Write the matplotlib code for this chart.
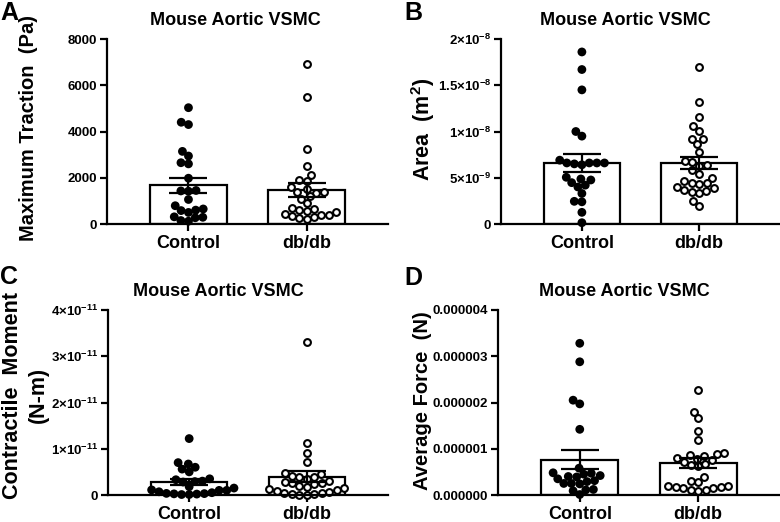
# Mouse aortic VSMC traction measurements, control vs db/db
# Four panels: bar = mean, error bar = SEM, points = individual cells.

import numpy as np
import matplotlib
matplotlib.use('Agg')
import matplotlib.pyplot as plt

plt.rcParams['font.family'] = ['Liberation Sans', 'DejaVu Sans']
plt.rcParams['font.weight'] = 'bold'
plt.rcParams['mathtext.fontset'] = 'custom'
plt.rcParams['mathtext.rm'] = 'Liberation Sans:bold'
plt.rcParams['mathtext.bf'] = 'Liberation Sans:bold'

GROUPS = ['Control', 'db/db']
TITLE = 'Mouse Aortic VSMC'

# Maximum traction (Pa)
traction_ctrl = [5030, 4400, 4300, 3140, 2940, 2650, 2600, 1980, 1450, 1430, 1420,
                 1060, 790, 650, 600, 580, 500, 310, 290, 270, 150, 120]
traction_db = [6900, 5500, 3250, 2500, 2100, 1900, 1850, 1600, 1500, 1400, 1380, 1350,
               1200, 1100, 900, 700, 650, 600, 550, 500, 450, 400, 380, 350, 300, 250, 200]

# Cell area (x1e-9 m^2)
area_ctrl = [18.6, 16.7, 14.5, 10.0, 9.5, 6.9, 6.6, 6.6, 6.6, 6.6, 6.5, 6.4, 5.05, 4.87,
             4.76, 4.47, 4.2, 4.0, 3.3, 2.45, 2.4, 1.26, 0.14]
area_db = [17.0, 13.2, 11.6, 10.6, 10.1, 9.2, 9.15, 8.6, 7.8, 6.8, 6.7, 6.4, 6.3, 5.8, 5.4,
           5.0, 4.6, 4.45, 4.4, 4.35, 4.0, 3.9, 3.7, 3.6, 3.5, 3.4, 2.5, 2.0]

# Contractile moment (x1e-12 N-m)
moment_ctrl = [12.2, 7.0, 6.7, 6.0, 5.6, 5.0, 3.5, 3.3, 3.0, 2.9, 2.8, 1.8, 1.5, 1.1, 1.0,
               1.0, 0.7, 0.5, 0.35, 0.3, 0.25, 0.2, 0.1, 0.1]
moment_db = [33.0, 11.3, 9.0, 7.2, 4.8, 4.5, 4.2, 4.0, 3.8, 3.5, 3.0, 2.8, 2.6, 2.5, 2.3,
             2.0, 1.8, 1.5, 1.2, 1.0, 0.9, 0.7, 0.5, 0.4, 0.3, 0.2, 0.1, 0.1]

# Average force (x1e-7 N)
force_ctrl = [32.8, 28.8, 20.5, 19.7, 14.2, 5.8, 4.8, 4.7, 4.5, 4.2, 4.0, 3.9, 3.5, 3.1,
              2.9, 2.5, 2.5, 2.4, 1.2, 1.1, 0.9, 0.1]
force_db = [22.8, 18.0, 16.6, 13.8, 12.0, 9.0, 8.8, 8.6, 8.4, 8.0, 7.8, 7.5, 7.2, 6.8, 6.5,
            6.2, 4.0, 3.0, 2.9, 2.0, 1.9, 1.8, 1.7, 1.6, 1.5, 1.1, 1.0, 0.9]

# tick labels
traction_ticks = [0, 2000, 4000, 6000, 8000]
traction_labels = ['0', '2000', '4000', '6000', '8000']
area_ticks = [0, 5e-9, 1e-8, 1.5e-8, 2e-8]
area_labels = ['0', r'$\mathbf{5{\times}10^{-9}}$', r'$\mathbf{1{\times}10^{-8}}$',
               r'$\mathbf{1.5{\times}10^{-8}}$', r'$\mathbf{2{\times}10^{-8}}$']
moment_ticks = [0, 1e-11, 2e-11, 3e-11, 4e-11]
moment_labels = ['0', r'$\mathbf{1{\times}10^{-11}}$', r'$\mathbf{2{\times}10^{-11}}$',
                 r'$\mathbf{3{\times}10^{-11}}$', r'$\mathbf{4{\times}10^{-11}}$']
force_ticks = [0, 1e-6, 2e-6, 3e-6, 4e-6]
force_labels = ['0.000000', '0.000001', '0.000002', '0.000003', '0.000004']

W, H = 780, 522


def swarm_x(ax, values, center, diam):
    """Simple beeswarm: x offsets (data units) so points don't overlap."""
    tr = ax.transData
    ys = tr.transform(np.column_stack([np.full(len(values), center), values]))[:, 1]
    ppu = tr.transform([[1, 0]])[0, 0] - tr.transform([[0, 0]])[0, 0]
    order = np.argsort(values, kind='stable')
    placed = []
    offs = np.zeros(len(values))
    for i in order:
        y = ys[i]
        cands = [0.0]
        for (px, py) in placed:
            dy = abs(py - y)
            if dy < diam:
                dx = np.sqrt(diam ** 2 - dy ** 2)
                cands += [px + dx, px - dx]
        cands = sorted(cands, key=lambda c: (abs(c), c))
        for c in cands:
            if all((c - px) ** 2 + (y - py) ** 2 >= diam ** 2 - 1e-6 for px, py in placed):
                break
        placed.append((c, y))
        offs[i] = c
    return center + offs / ppu


def draw_panel(rect, letter, letter_pos, ctrl, db, scale, ylim, ticks, labels,
               ylabel, ylabel_size, ylabel_xy, title_x):
    fig = plt.gcf()
    ax = fig.add_axes([rect[0] / W, 1 - rect[3] / H, (rect[1] - rect[0]) / W,
                       (rect[3] - rect[2]) / H])
    ax.set_xlim(-0.69, 1.69)
    ax.set_ylim(*ylim)

    for k, vals in enumerate([ctrl, db]):
        v = np.array(vals) * scale
        mean = v.mean()
        sem = v.std(ddof=1) / np.sqrt(len(v))
        ax.bar(k, mean, width=0.65, color='white', edgecolor='black', linewidth=1.6, zorder=1)
        xs = swarm_x(ax, v, k, 7.6)
        if k == 0:
            ax.scatter(xs, v, s=40, color='black', edgecolors='none', zorder=2, clip_on=False)
        else:
            ax.scatter(xs, v, s=24, facecolors='white', edgecolors='black', linewidths=1.5,
                       zorder=2, clip_on=False)
        ax.errorbar(k, mean, yerr=sem, color='black', elinewidth=1.6, capsize=14,
                    capthick=1.6, zorder=3)

    for s in ['top', 'right']:
        ax.spines[s].set_visible(False)
    for s in ['left', 'bottom']:
        ax.spines[s].set_linewidth(1.6)
    ax.set_xticks([0, 1])
    ax.set_xticklabels(GROUPS, fontsize=13, fontweight='bold')
    ax.set_yticks(ticks)
    ax.set_yticklabels(labels, fontsize=9.5, fontweight='bold')
    ax.tick_params(axis='y', length=5, width=1.6, pad=2)
    ax.tick_params(axis='x', length=5, width=1.6, pad=3)
    ax.set_ylabel(ylabel, fontsize=ylabel_size, fontweight='bold', linespacing=1.35)
    ax.yaxis.set_label_coords(*ylabel_xy)
    ax.text(title_x, 1.1, TITLE, transform=ax.transAxes, ha='center', va='center',
            fontsize=13, fontweight='bold')
    fig.text(letter_pos[0] / W, 1 - letter_pos[1] / H, letter, fontsize=18,
             fontweight='bold', ha='left', va='top')
    return ax


fig = plt.figure(figsize=(7.8, 5.22), dpi=100)

draw_panel((107, 388, 39, 224), 'A', (0, 1), traction_ctrl, traction_db, 1.0,
           (0, 8000), traction_ticks, traction_labels, 'Maximum Traction  (Pa)', 14.5,
           (-0.246, 0.52), 0.456)
draw_panel((501, 780, 39, 224), 'B', (404, 1), area_ctrl, area_db, 1e-9,
           (0, 2e-8), area_ticks, area_labels, 'Area  (m$^\\mathbf{2}$)', 15.5,
           (-0.23, 0.51), 0.444)
draw_panel((108, 388, 310, 495), 'C', (0, 265), moment_ctrl, moment_db, 1e-12,
           (0, 4e-11), moment_ticks, moment_labels, 'Contractile  Moment\n(N-m)', 15.5,
           (-0.21, 0.54), 0.393)
draw_panel((498, 780, 310, 495), 'D', (404, 266), force_ctrl, force_db, 1e-7,
           (0, 4e-6), force_ticks, force_labels, 'Average Force  (N)', 14.5,
           (-0.234, 0.51), 0.447)

fig.savefig('out.png', dpi=100)
